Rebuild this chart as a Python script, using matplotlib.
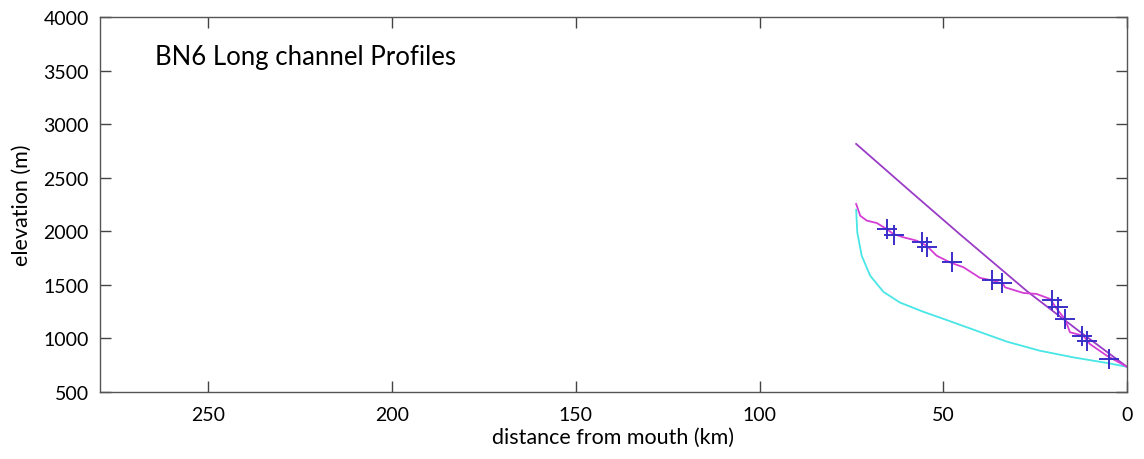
import numpy as np
import matplotlib
matplotlib.use("Agg")
import matplotlib.pyplot as plt

plt.rcParams['font.family'] = ['Lato', 'DejaVu Sans']

# upper profile (nearly straight, slight sag)
upper_km = [73.7, 58.6, 45.4, 27.0, 13.5, 0.0]
upper_elev = [2815, 2362, 1970, 1435, 1080, 735]

# lower profile (steep head, then flattening)
lower_km = [73.7, 73.4, 72.2, 69.9, 66.3, 61.8, 55.4, 50.9, 41.8, 32.7, 23.7, 14.6, 5.5, 0.0]
lower_elev = [2200, 1990, 1772, 1586, 1435, 1335, 1248, 1194, 1082, 970, 885, 823, 771, 735]

# measured channel profile
chan_km = [73.7, 72.6, 70.8, 68.1, 65.4, 63.6, 60.9, 57.2, 54.5, 51.8, 48.2, 44.5,
           40.0, 36.4, 33.7, 33.2, 28.2, 24.6, 20.9, 19.1, 16.9, 15.5, 11.9, 10.1,
           5.5, 0.0]
chan_elev = [2255, 2145, 2099, 2077, 2021, 1975, 1944, 1912, 1865, 1772, 1710, 1664,
             1565, 1539, 1508, 1477, 1424, 1415, 1368, 1275, 1181, 1057, 1025, 948,
             839, 735]

# knickpoint picks
knick_km = [65.4, 63.4, 55.9, 54.5, 47.7, 36.6, 34.1, 20.3, 18.7, 16.9, 12.3, 11.0, 4.8]
knick_elev = [2021, 1965, 1903, 1850, 1710, 1548, 1514, 1361, 1290, 1181, 1020, 973, 808]

fig = plt.figure(figsize=(11.44, 4.6), dpi=100)
ax = fig.add_axes([0.0874, 0.1457, 0.8977, 0.8153])

ax.plot(upper_km, upper_elev, color='#9a3cc6', lw=1.3)
ax.plot(lower_km, lower_elev, color='#48e6e6', lw=1.3)
ax.plot(chan_km, chan_elev, color='#d43ed4', lw=1.3)
ax.plot(knick_km, knick_elev, ls='none', marker='+', ms=14, mew=1.4, color='#3a2ec8')

ax.set_xlim(279.5, 0)
ax.set_ylim(500, 4000)
ax.set_xticks([250, 200, 150, 100, 50, 0])
ax.set_yticks(np.arange(500, 4001, 500))
ax.tick_params(direction='in', length=8, width=1, color='#444444',
               top=True, right=True, labelsize=14)
ax.tick_params(axis='x', pad=10)
ax.tick_params(axis='y', pad=8)
for sp in ax.spines.values():
    sp.set_color('#555555')
    sp.set_linewidth(1.0)

ax.set_xlabel('distance from mouth (km)', fontsize=15.5, labelpad=3)
ax.set_ylabel('elevation (m)', fontsize=15.5, labelpad=8)
ax.text(0.054, 0.895, 'BN6 Long channel Profiles', transform=ax.transAxes,
        fontsize=18.5, va='center', ha='left')

fig.savefig('out.png', dpi=100)
